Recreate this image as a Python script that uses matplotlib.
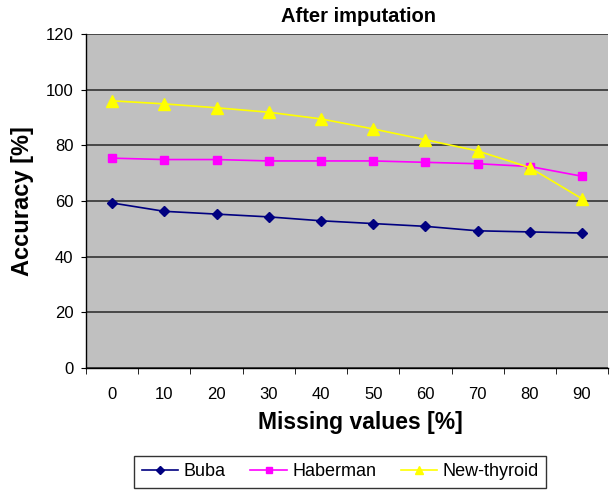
import matplotlib
matplotlib.use('Agg')
import matplotlib.pyplot as plt
import numpy as np

plt.rcParams['font.family'] = ['Liberation Sans', 'DejaVu Sans']

missing = [0, 10, 20, 30, 40, 50, 60, 70, 80, 90]
buba = [59.3, 56.3, 55.3, 54.3, 52.9, 51.9, 50.9, 49.3, 48.9, 48.5]
haberman = [75.4, 74.9, 74.9, 74.4, 74.4, 74.4, 73.9, 73.4, 72.4, 68.9]
new_thyroid = [96.0, 94.9, 93.5, 91.9, 89.5, 85.9, 82.0, 78.0, 72.0, 60.8]

fig = plt.figure(figsize=(6.1, 4.93), dpi=100)
ax = fig.add_axes([0.141, 0.2535, 0.856, 0.6775])
ax.set_facecolor('#C0C0C0')

x = np.arange(len(missing))
ax.plot(x, buba, color='#000080', marker='D', markersize=5.5, lw=1.2, label='Buba')
ax.plot(x, haberman, color='#FF00FF', marker='s', markersize=6, lw=1.2, label='Haberman')
ax.plot(x, new_thyroid, color='#FFFF00', marker='^', markersize=8, lw=1.2, label='New-thyroid')

ax.set_xlim(-0.5, 9.5)
ax.set_ylim(0, 120)
ax.set_yticks(range(0, 121, 20))
ax.set_xticks(x)
ax.set_xticklabels([str(m) for m in missing])
ax.set_xticks(np.arange(-0.5, 10, 1), minor=True)
ax.tick_params(axis='x', which='major', length=0, pad=14, labelsize=12)
ax.tick_params(axis='x', which='minor', length=4.5, direction='out')
ax.tick_params(axis='y', length=3.6, direction='out', labelsize=12, pad=5.5)

ax.grid(axis='y', color='#333333', lw=1.2)
ax.set_axisbelow(True)
for s in ['top', 'right']:
    ax.spines[s].set_visible(False)
ax.spines['left'].set_linewidth(1)
ax.spines['bottom'].set_linewidth(1)

ax.set_title('After imputation', fontsize=14.5, fontweight='bold', x=0.521, pad=8.5)
ax.set_xlabel('Missing values [%]', fontsize=16.5, fontweight='bold')
ax.set_ylabel('Accuracy [%]', fontsize=17, fontweight='bold')
ax.xaxis.set_label_coords(0.525, -0.13)
ax.yaxis.set_label_coords(-0.1, 0.5)

leg = fig.legend(loc='center', bbox_to_anchor=(0.558, 0.043), ncol=3, fontsize=13,
                 frameon=True, fancybox=False, edgecolor='black', handlelength=2.0,
                 handletextpad=0.3, columnspacing=1.4, borderpad=0.4, borderaxespad=0,
                 markerscale=0.8)
leg.get_frame().set_linewidth(1)

fig.savefig('out.png', dpi=100)
